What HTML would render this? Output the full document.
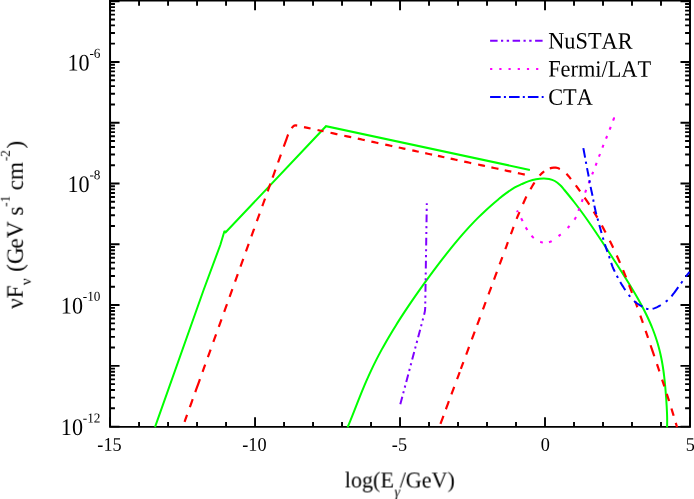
<!DOCTYPE html>
<html><head><meta charset="utf-8"><title>SED</title>
<style>html,body{margin:0;padding:0;background:#fff;}svg{display:block;}text{font-family:"Liberation Serif",serif;fill:#000;font-kerning:none;text-rendering:geometricPrecision;}</style>
</head><body>
<svg width="694" height="499" viewBox="0 0 694 499">
<rect x="0" y="0" width="694" height="499" fill="#fff"/>
<g stroke="#000" stroke-width="1.9" fill="none" stroke-linecap="butt">
<path d="M110.05,0 V427.85 M690.0,0 V427.85 M109.05,426.87 H691.0" stroke-width="1.96"/>
<path d="M109.05,0.8 H691.0" stroke-width="1.6"/>
<path d="M110.05,426.87 v-9.5 M110.05,0.8 v9.5 M139.05,426.87 v-4.9 M139.05,0.8 v4.9 M168.05,426.87 v-4.9 M168.05,0.8 v4.9 M197.04,426.87 v-4.9 M197.04,0.8 v4.9 M226.04,426.87 v-4.9 M226.04,0.8 v4.9 M255.04,426.87 v-9.5 M255.04,0.8 v9.5 M284.04,426.87 v-4.9 M284.04,0.8 v4.9 M313.03,426.87 v-4.9 M313.03,0.8 v4.9 M342.03,426.87 v-4.9 M342.03,0.8 v4.9 M371.03,426.87 v-4.9 M371.03,0.8 v4.9 M400.03,426.87 v-9.5 M400.03,0.8 v9.5 M429.02,426.87 v-4.9 M429.02,0.8 v4.9 M458.02,426.87 v-4.9 M458.02,0.8 v4.9 M487.02,426.87 v-4.9 M487.02,0.8 v4.9 M516.01,426.87 v-4.9 M516.01,0.8 v4.9 M545.01,426.87 v-9.5 M545.01,0.8 v9.5 M574.01,426.87 v-4.9 M574.01,0.8 v4.9 M603.01,426.87 v-4.9 M603.01,0.8 v4.9 M632.00,426.87 v-4.9 M632.00,0.8 v4.9 M661.00,426.87 v-4.9 M661.00,0.8 v4.9 M690.00,426.87 v-9.5 M690.00,0.8 v9.5 M110.05,426.62 h9.5 M690.0,426.62 h-9.5 M110.05,408.32 h4.9 M690.0,408.32 h-4.9 M110.05,397.62 h4.9 M690.0,397.62 h-4.9 M110.05,390.03 h4.9 M690.0,390.03 h-4.9 M110.05,384.14 h4.9 M690.0,384.14 h-4.9 M110.05,379.33 h4.9 M690.0,379.33 h-4.9 M110.05,375.26 h4.9 M690.0,375.26 h-4.9 M110.05,371.73 h4.9 M690.0,371.73 h-4.9 M110.05,368.63 h4.9 M690.0,368.63 h-4.9 M110.05,365.84 h9.5 M690.0,365.84 h-9.5 M110.05,347.55 h4.9 M690.0,347.55 h-4.9 M110.05,336.85 h4.9 M690.0,336.85 h-4.9 M110.05,329.25 h4.9 M690.0,329.25 h-4.9 M110.05,323.36 h4.9 M690.0,323.36 h-4.9 M110.05,318.55 h4.9 M690.0,318.55 h-4.9 M110.05,314.48 h4.9 M690.0,314.48 h-4.9 M110.05,310.96 h4.9 M690.0,310.96 h-4.9 M110.05,307.85 h4.9 M690.0,307.85 h-4.9 M110.05,305.07 h9.5 M690.0,305.07 h-9.5 M110.05,286.77 h4.9 M690.0,286.77 h-4.9 M110.05,276.07 h4.9 M690.0,276.07 h-4.9 M110.05,268.48 h4.9 M690.0,268.48 h-4.9 M110.05,262.59 h4.9 M690.0,262.59 h-4.9 M110.05,257.78 h4.9 M690.0,257.78 h-4.9 M110.05,253.71 h4.9 M690.0,253.71 h-4.9 M110.05,250.18 h4.9 M690.0,250.18 h-4.9 M110.05,247.07 h4.9 M690.0,247.07 h-4.9 M110.05,244.29 h9.5 M690.0,244.29 h-9.5 M110.05,226.00 h4.9 M690.0,226.00 h-4.9 M110.05,215.30 h4.9 M690.0,215.30 h-4.9 M110.05,207.70 h4.9 M690.0,207.70 h-4.9 M110.05,201.81 h4.9 M690.0,201.81 h-4.9 M110.05,197.00 h4.9 M690.0,197.00 h-4.9 M110.05,192.93 h4.9 M690.0,192.93 h-4.9 M110.05,189.41 h4.9 M690.0,189.41 h-4.9 M110.05,186.30 h4.9 M690.0,186.30 h-4.9 M110.05,183.52 h9.5 M690.0,183.52 h-9.5 M110.05,165.22 h4.9 M690.0,165.22 h-4.9 M110.05,154.52 h4.9 M690.0,154.52 h-4.9 M110.05,146.93 h4.9 M690.0,146.93 h-4.9 M110.05,141.04 h4.9 M690.0,141.04 h-4.9 M110.05,136.22 h4.9 M690.0,136.22 h-4.9 M110.05,132.16 h4.9 M690.0,132.16 h-4.9 M110.05,128.63 h4.9 M690.0,128.63 h-4.9 M110.05,125.52 h4.9 M690.0,125.52 h-4.9 M110.05,122.74 h9.5 M690.0,122.74 h-9.5 M110.05,104.45 h4.9 M690.0,104.45 h-4.9 M110.05,93.74 h4.9 M690.0,93.74 h-4.9 M110.05,86.15 h4.9 M690.0,86.15 h-4.9 M110.05,80.26 h4.9 M690.0,80.26 h-4.9 M110.05,75.45 h4.9 M690.0,75.45 h-4.9 M110.05,71.38 h4.9 M690.0,71.38 h-4.9 M110.05,67.86 h4.9 M690.0,67.86 h-4.9 M110.05,64.75 h4.9 M690.0,64.75 h-4.9 M110.05,61.97 h9.5 M690.0,61.97 h-9.5 M110.05,43.67 h4.9 M690.0,43.67 h-4.9 M110.05,32.97 h4.9 M690.0,32.97 h-4.9 M110.05,25.38 h4.9 M690.0,25.38 h-4.9 M110.05,19.49 h4.9 M690.0,19.49 h-4.9 M110.05,14.67 h4.9 M690.0,14.67 h-4.9 M110.05,10.60 h4.9 M690.0,10.60 h-4.9 M110.05,7.08 h4.9 M690.0,7.08 h-4.9 M110.05,3.97 h4.9 M690.0,3.97 h-4.9 M110.05,1.19 h9.5 M690.0,1.19 h-9.5"/>
</g>
<g fill="none" stroke-linecap="butt" stroke-linejoin="round">
<path d="M155.0,427.2 L203.6,290.0 L220.3,245.0 L224.5,231.0 L225.7,232.3 L326.0,126.2 L529.9,169.9" stroke="#00ff00" stroke-width="2" stroke-linejoin="miter" stroke-miterlimit="2"/>
<path d="M347.53,427.40 C347.95,426.40 349.23,423.40 350.06,421.40 C350.88,419.40 351.68,417.40 352.47,415.40 C353.27,413.40 354.05,411.40 354.83,409.40 C355.62,407.40 356.39,405.40 357.18,403.40 C357.97,401.40 358.75,399.40 359.55,397.40 C360.35,395.40 361.15,393.40 361.97,391.40 C362.79,389.40 363.62,387.40 364.46,385.40 C365.31,383.40 366.17,381.40 367.06,379.40 C367.94,377.40 368.84,375.40 369.76,373.40 C370.68,371.40 371.62,369.40 372.58,367.40 C373.54,365.40 374.52,363.40 375.53,361.40 C376.53,359.40 377.56,357.40 378.60,355.40 C379.65,353.40 380.72,351.40 381.81,349.40 C382.90,347.40 384.02,345.40 385.15,343.40 C386.28,341.40 387.44,339.40 388.61,337.40 C389.79,335.40 390.98,333.40 392.19,331.40 C393.41,329.40 394.64,327.40 395.89,325.40 C397.13,323.40 398.40,321.40 399.68,319.40 C400.97,317.40 402.27,315.40 403.58,313.40 C404.89,311.40 406.22,309.40 407.56,307.40 C408.91,305.40 410.26,303.40 411.63,301.40 C413.00,299.40 414.38,297.40 415.77,295.40 C417.17,293.40 418.57,291.40 419.99,289.40 C421.41,287.40 422.83,285.40 424.27,283.40 C425.71,281.40 427.16,279.40 428.63,277.40 C430.09,275.40 431.56,273.40 433.05,271.40 C434.54,269.40 436.04,267.40 437.55,265.40 C439.07,263.40 440.60,261.40 442.14,259.40 C443.69,257.40 445.25,255.40 446.83,253.40 C448.41,251.40 450.01,249.40 451.63,247.40 C453.26,245.40 454.90,243.40 456.58,241.40 C458.26,239.40 459.95,237.40 461.69,235.40 C463.43,233.40 465.20,231.40 467.01,229.40 C468.82,227.40 470.67,225.40 472.57,223.40 C474.47,221.40 476.41,219.40 478.41,217.40 C480.42,215.40 482.47,213.40 484.61,211.40 C486.74,209.40 488.92,207.40 491.20,205.40 C493.48,203.40 495.82,201.40 498.27,199.40 C500.72,197.40 503.21,195.35 505.90,193.40 C508.59,191.45 511.78,189.23 514.40,187.70 C517.02,186.17 519.18,185.30 521.60,184.20 C524.02,183.10 526.48,181.93 528.90,181.10 C531.32,180.27 533.70,179.63 536.10,179.20 C538.50,178.77 541.13,178.54 543.30,178.50 C545.47,178.46 547.18,178.53 549.10,178.95 C551.02,179.37 552.93,179.96 554.80,181.00 C556.67,182.04 558.70,183.70 560.30,185.20 C561.90,186.70 562.90,188.20 564.41,190.00 C565.92,191.80 567.74,194.00 569.36,196.00 C570.98,198.00 572.57,200.00 574.12,202.00 C575.68,204.00 577.21,206.00 578.71,208.00 C580.20,210.00 581.67,212.00 583.12,214.00 C584.57,216.00 585.99,218.00 587.40,220.00 C588.80,222.00 590.19,224.00 591.56,226.00 C592.93,228.00 594.28,230.00 595.63,232.00 C596.98,234.00 598.31,236.00 599.64,238.00 C600.96,240.00 602.28,242.00 603.60,244.00 C604.91,246.00 606.22,248.00 607.53,250.00 C608.83,252.00 610.13,254.00 611.43,256.00 C612.73,258.00 614.02,260.00 615.31,262.00 C616.60,264.00 617.89,266.00 619.17,268.00 C620.45,270.00 621.72,272.00 622.99,274.00 C624.25,276.00 625.51,278.00 626.75,280.00 C628.00,282.00 629.23,284.00 630.45,286.00 C631.67,288.00 632.87,290.00 634.05,292.00 C635.23,294.00 636.40,296.00 637.53,298.00 C638.67,300.00 639.78,302.00 640.87,304.00 C641.95,306.00 643.01,308.00 644.03,310.00 C645.06,312.00 646.05,314.00 647.00,316.00 C647.96,318.00 648.88,320.00 649.76,322.00 C650.64,324.00 651.49,326.00 652.29,328.00 C653.09,330.00 653.85,332.00 654.57,334.00 C655.29,336.00 655.97,338.00 656.61,340.00 C657.25,342.00 657.84,344.00 658.40,346.00 C658.96,348.00 659.47,350.00 659.95,352.00 C660.43,354.00 660.87,356.00 661.28,358.00 C661.68,360.00 662.05,362.00 662.40,364.00 C662.74,366.00 663.05,368.00 663.34,370.00 C663.62,372.00 663.88,374.00 664.12,376.00 C664.36,378.00 664.58,380.00 664.79,382.00 C664.99,384.00 665.17,386.00 665.35,388.00 C665.53,390.00 665.69,392.00 665.84,394.00 C666.00,396.00 666.14,398.00 666.28,400.00 C666.41,402.00 666.54,404.00 666.66,406.00 C666.77,408.00 666.88,410.00 666.96,412.00 C667.04,414.00 667.12,416.00 667.15,418.00 C667.18,420.00 667.17,422.43 667.15,424.00 C667.14,425.57 667.05,426.83 667.03,427.40" stroke="#00ff00" stroke-width="2"/>
<path d="M184.56,421.80 L185.42,419.41 L186.34,416.88 L187.05,414.90 M189.86,407.12 L190.77,404.60 L191.59,402.31 L192.42,400.00 L192.70,399.22 M195.29,392.03 L196.13,389.72 L196.96,387.41 L197.90,384.80 L198.82,382.26 L199.71,379.80 L199.92,379.19 M202.57,371.86 L203.46,369.39 L204.35,366.90 L205.18,364.62 M207.89,357.10 L208.80,354.58 L209.71,352.05 L210.62,349.53 M213.35,341.95 L214.26,339.42 L215.17,336.90 L216.08,334.39 M218.78,326.88 L219.69,324.38 L220.59,321.88 L221.49,319.38 M224.19,311.88 L225.09,309.38 L225.99,306.88 L226.90,304.38 L226.97,304.17 M229.60,296.88 L230.50,294.38 L231.40,291.88 L232.30,289.38 L232.38,289.17 M235.08,281.67 L235.98,279.17 L236.88,276.67 L237.79,274.17 M240.49,266.67 L241.39,264.17 L242.29,261.67 L243.19,259.17 L243.27,258.96 M245.97,251.46 L246.87,248.96 L247.77,246.46 L248.68,243.96 M251.38,236.46 L252.28,233.96 L253.18,231.46 L254.09,228.95 L254.16,228.74 M256.87,221.22 L257.70,218.92 L258.52,216.65 L259.34,214.37 L259.62,213.61 M262.29,206.20 L263.17,203.75 L264.11,201.14 L265.04,198.56 M267.66,191.30 L268.52,188.92 L269.35,186.61 L270.30,183.97 L270.46,183.54 M272.58,177.64 L273.41,175.34 L274.39,172.63 L275.35,169.97 L275.50,169.54 M278.04,162.50 L279.09,159.60 L280.06,156.90 L280.89,154.60 M283.76,146.64 L284.91,143.46 L285.66,141.38 L286.41,139.28 L287.03,137.50 L287.53,136.08 L288.06,134.70 L288.17,134.46 M291.61,128.12 L292.22,127.41 L292.91,126.66 L293.67,126.00 L294.46,125.60 L295.17,125.44 L296.00,125.46 L297.20,125.62 M304.00,127.08 L307.68,127.88 L310.55,128.49 M317.53,129.99 L320.87,130.71 L323.35,131.25 L323.55,131.29 M330.50,132.79 L333.37,133.40 L336.41,134.06 L337.46,134.28 M344.28,135.75 L347.07,136.35 L349.80,136.94 L351.22,137.24 M357.79,138.66 L360.30,139.20 L362.71,139.72 L364.77,140.16 M371.36,141.58 L373.97,142.14 L376.61,142.71 L378.38,143.09 M385.26,144.57 L387.92,145.14 L390.56,145.71 L392.31,146.09 M398.74,147.47 L401.25,148.01 L403.75,148.55 L405.42,148.91 M412.29,150.39 L414.79,150.93 L417.29,151.46 L418.75,151.78 M425.21,153.17 L427.71,153.71 L430.21,154.24 L432.08,154.65 M437.92,155.90 L440.42,156.44 L442.92,156.98 L444.38,157.29 M450.63,158.64 L453.17,159.19 L455.77,159.74 L457.52,160.12 M464.22,161.56 L466.92,162.14 L469.63,162.73 L471.21,163.07 M478.12,164.55 L480.74,165.12 L483.31,165.67 L484.99,166.03 M491.38,167.41 L494.08,167.99 L496.64,168.54 L498.46,168.93 M504.69,170.27 L507.17,170.81 L509.82,171.38 L511.29,171.69 M517.88,173.11 L520.93,173.77 L523.80,174.38 L524.80,174.60" stroke="#ff0000" stroke-width="2.2"/>
<path d="M440.46,423.90 L441.39,421.41 L442.27,419.04 L443.18,416.58 L443.47,415.81 M445.90,409.25 L446.75,406.96 L447.62,404.62 L448.51,402.23 L448.88,401.23 M451.43,394.36 L452.33,391.93 L453.22,389.53 L454.10,387.16 L454.17,386.97 M457.06,379.19 L457.96,376.76 L458.87,374.31 L459.71,372.05 M460.86,368.96 L461.78,366.47 L462.71,363.98 L463.40,362.10 M466.20,354.56 L467.14,352.04 L468.07,349.52 L469.01,346.99 M471.82,339.42 L472.76,336.90 L473.69,334.39 L474.62,331.88 L474.70,331.67 M477.21,324.91 L478.07,322.60 L478.93,320.27 L479.80,317.92 L480.02,317.33 M482.95,309.43 L483.83,307.07 L484.70,304.73 L485.57,302.39 L485.71,302.01 M488.55,294.36 L489.46,291.90 L490.35,289.51 L491.21,287.18 L491.28,286.99 M494.02,279.62 L494.92,277.19 L495.84,274.72 L496.71,272.37 L496.85,271.99 M499.64,264.49 L500.50,262.17 L501.52,259.41 L502.34,257.20 M505.32,249.17 L506.22,246.76 L507.08,244.44 L507.90,242.22 M510.89,234.16 L511.96,231.29 L513.04,228.37 L513.57,226.93 M516.60,218.86 L517.89,215.80 L519.17,212.83 L519.51,212.03 M523.00,204.00 L524.34,200.98 L525.68,198.07 L526.40,196.60 M530.50,189.20 L532.05,186.48 L533.63,183.84 L534.50,182.50 M539.60,175.60 L541.43,173.67 L543.22,172.12 L544.20,171.40 M549.80,168.40 L551.84,167.82 L553.80,167.59 L555.79,167.66 L557.73,168.01 L559.90,168.90 M566.46,173.80 L568.85,176.43 L570.90,179.08 M575.81,185.43 L577.91,188.23 L579.97,191.03 L580.14,191.27 M584.59,197.57 L586.50,200.37 L588.36,203.17 L589.28,204.57 M593.71,211.57 L595.41,214.37 L597.07,217.17 L597.35,217.63 M601.86,225.57 L603.39,228.37 L604.89,231.17 L605.63,232.57 M609.79,240.73 L611.16,243.53 L612.51,246.33 L613.17,247.73 M616.72,255.43 L617.97,258.23 L619.20,261.03 L620.01,262.90 M623.07,270.13 L624.23,272.93 L625.36,275.73 L626.02,277.37 M629.06,285.07 L630.14,287.87 L631.20,290.67 L632.00,292.77 M635.21,301.40 L636.23,304.20 L637.24,307.00 L637.33,307.23 M640.33,315.63 L641.32,318.43 L642.30,321.23 L642.88,322.87 M645.63,330.80 L646.60,333.60 L647.56,336.40 L648.04,337.80 M650.59,345.27 L651.54,348.07 L652.49,350.87 L653.44,353.67 L654.31,356.23 M656.97,364.17 L657.91,366.97 L658.85,369.77 L659.39,371.40 M662.10,379.57 L663.03,382.37 L663.95,385.17 L664.33,386.33 M666.76,393.80 L667.66,396.60 L668.56,399.40 L669.08,401.03 M671.43,408.50 L672.30,411.30 L673.15,414.10 L673.65,415.73 M675.77,422.86 L676.55,425.53 L676.93,426.82 L677.01,427.11 L677.03,427.20" stroke="#ff0000" stroke-width="2.2"/>
<path d="M400.3,404.3 L424.3,314.0 Q425.1,311.0 425.2,308.0 L426.8,203.3" stroke="#8000ff" stroke-width="2" stroke-dasharray="7.8 3.6 2.1 3.75 2.1 3.8"/>
<path d="M517.00,210.50 L517.40,211.26 L517.80,212.00 M521.13,218.33 L521.80,219.60 L522.41,220.80 L522.56,221.10 M525.71,227.34 L526.40,228.50 L527.12,229.66 L527.30,229.95 M531.53,235.84 L532.50,236.80 L533.55,237.71 L533.82,237.93 M540.20,241.79 L541.40,242.20 L542.57,242.48 L542.87,242.54 M549.00,242.20 L550.20,241.80 L551.42,241.26 L551.72,241.10 M558.58,236.14 L559.81,235.15 L560.58,234.52 L560.73,234.39 M567.69,227.95 L568.76,226.82 L569.53,225.97 M574.47,219.66 L575.20,218.50 L575.85,217.33 L575.99,217.04 M578.45,210.79 L578.90,209.60 L579.36,208.41 L579.47,208.11 M581.76,201.81 L582.20,200.60 L582.65,199.38 L582.76,199.08 M585.14,192.63 L585.60,191.40 L586.07,190.16 L586.19,189.85 M588.73,183.32 L589.20,182.10 L589.66,180.90 L589.78,180.61 M592.14,174.47 L592.60,173.30 L593.06,172.12 L593.18,171.82 M595.64,165.59 L596.10,164.40 L596.55,163.21 L596.66,162.92 M598.95,156.70 L599.40,155.50 L599.86,154.30 L599.97,153.99 M602.43,147.60 L602.90,146.40 L603.37,145.20 L603.49,144.91 M606.02,138.69 L606.50,137.50 L606.98,136.31 L607.10,136.01 M609.63,129.71 L610.10,128.50 L610.60,127.22 L610.73,126.88 M613.10,120.62 L613.46,119.67 L613.72,119.00 L613.88,118.57 L613.96,118.34 L613.99,118.25 L613.99,118.27 L613.96,118.32 L613.95,118.37 L613.95,118.35" stroke="#ff00ff" stroke-width="2.1"/>
<path d="M583.33,148.17 L583.83,150.80 L584.50,154.40 L585.10,157.60 M587.02,168.12 L587.62,171.10 L588.21,174.02 L588.70,176.50 M590.60,186.90 L591.24,189.92 L591.87,192.77 L592.50,195.70 M594.36,205.61 L595.04,208.81 L595.73,211.90 L596.30,214.30 M599.30,225.00 L600.22,228.36 L601.11,231.51 L601.55,233.07 M604.87,244.19 L605.89,247.38 L606.93,250.41 L607.46,251.87 M611.20,262.84 L612.41,266.30 L613.76,269.53 L614.78,271.69 M620.23,281.97 L622.11,285.15 L623.97,288.07 L625.11,289.76 L625.34,290.10 M634.10,300.90 L635.54,302.17 L636.91,303.23 L638.30,304.20 L639.71,305.14 L641.14,306.00 L642.45,306.72 M652.60,308.70 L654.06,308.35 L655.38,307.87 L656.70,307.30 L658.00,306.70 L659.30,306.00 L660.80,305.10 M671.50,296.30 L673.50,293.73 L674.74,292.04 L675.97,290.33 L677.75,287.86 L678.30,287.10 M685.80,276.60 L687.20,274.81 L688.56,273.15 L689.50,272.00 M585.82,161.58 L586.06,162.92 L586.24,163.92 M589.39,180.28 L589.64,181.71 L589.84,182.79 M593.22,199.51 L593.45,200.81 L593.63,201.79 M597.49,218.43 L597.73,219.26 L598.01,220.28 L598.17,220.84 M602.82,237.45 L603.20,238.72 L603.48,239.67 M608.97,256.05 L609.41,257.32 L609.74,258.32 M616.81,275.67 L617.47,276.91 L617.97,277.86 M628.71,294.82 L629.49,295.84 L630.21,296.75 M646.07,308.58 L646.71,308.79 L647.37,308.93 L648.07,309.01 L648.43,309.04 M665.76,301.74 L666.52,301.15 L667.22,300.57 L667.70,300.17 M681.03,283.34 L681.46,282.74 L681.95,282.04 L682.48,281.29" stroke="#0000ff" stroke-width="2"/>
<path d="M490.1,40.8 H543.2" stroke="#8000ff" stroke-width="2" stroke-dasharray="7.5 3.4 2.2 3.5 2.4 3.5"/>
<path d="M490.1,68.9 H543.2" stroke="#ff00ff" stroke-width="2" stroke-dasharray="2.2 7"/>
<path d="M490.1,97.0 H543.6" stroke="#0000ff" stroke-width="2" stroke-dasharray="10.6 3.2 2 3.1"/>
</g>
<g opacity="0.999">
<text transform="translate(109.5,450.7) scale(0.945,1) rotate(0.03)" font-size="19.3" text-anchor="middle">-15</text>
<text transform="translate(254.4,450.7) scale(0.945,1) rotate(0.03)" font-size="19.3" text-anchor="middle">-10</text>
<text transform="translate(399.4,450.7) scale(0.945,1) rotate(0.03)" font-size="19.3" text-anchor="middle">-5</text>
<text transform="translate(545.3,450.7) scale(0.945,1) rotate(0.03)" font-size="19.3" text-anchor="middle">0</text>
<text transform="translate(690.3,450.7) scale(0.945,1) rotate(0.03)" font-size="19.3" text-anchor="middle">5</text>
<text transform="translate(89.63,70.47) scale(0.93,1) rotate(0.03)" font-size="23.8" text-anchor="end">10</text>
<text transform="translate(100.45,57.77) scale(0.975,1) rotate(0.03)" font-size="13.6" text-anchor="end">-6</text>
<text transform="translate(89.63,192.02) scale(0.93,1) rotate(0.03)" font-size="23.8" text-anchor="end">10</text>
<text transform="translate(100.45,179.32) scale(0.975,1) rotate(0.03)" font-size="13.6" text-anchor="end">-8</text>
<text transform="translate(83.00,313.57) scale(0.93,1) rotate(0.03)" font-size="23.8" text-anchor="end">10</text>
<text transform="translate(100.45,300.87) scale(0.975,1) rotate(0.03)" font-size="13.6" text-anchor="end">-10</text>
<text transform="translate(83.00,435.12) scale(0.93,1) rotate(0.03)" font-size="23.8" text-anchor="end">10</text>
<text transform="translate(100.45,422.42) scale(0.975,1) rotate(0.03)" font-size="13.6" text-anchor="end">-12</text>
<text transform="translate(548.2,48.6) scale(0.95,1) rotate(0.03)" font-size="23.5">NuSTAR</text>
<text transform="translate(548.2,76.6) scale(0.95,1) rotate(0.03)" font-size="23.5">Fermi/LAT</text>
<text transform="translate(548.2,104.8) scale(0.95,1) rotate(0.03)" font-size="23.5">CTA</text>
<text transform="translate(344.7,487.45) scale(0.98,1) rotate(0.03)" font-size="22.6">log(E<tspan font-size="14.5" font-style="italic" dy="9.0" dx="0.7">γ</tspan><tspan dy="-9.0" dx="-0.6">/GeV)</tspan></text>
<text transform="translate(22.7,308.8) rotate(-89.97) scale(0.99,1)" font-size="23.5">νF<tspan font-size="15" dy="8.3" dx="0.3">ν</tspan><tspan dy="-8.3" dx="0.7"> (G</tspan><tspan dx="-1.2">eV s</tspan><tspan font-size="13.5" dy="-13.1" dx="-0.3">-1</tspan><tspan dy="13.1" dx="-0.6"> cm</tspan><tspan font-size="13.5" dy="-12.7" dx="0.8">-2</tspan><tspan dy="12.7" dx="1.5">)</tspan></text>
</g>
</svg></body></html>
